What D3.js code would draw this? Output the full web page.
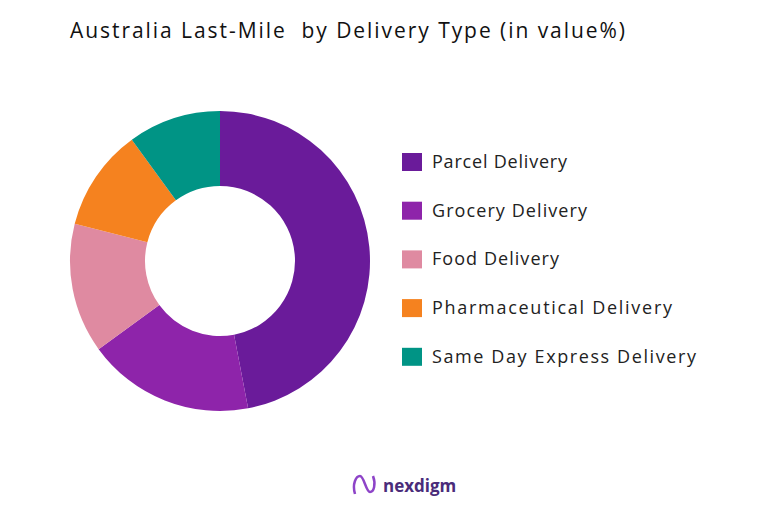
<!DOCTYPE html>
<html><head><meta charset="utf-8">
<script src="https://cdn.jsdelivr.net/npm/d3@7/dist/d3.min.js"></script>
<style>body{margin:0;background:#fff}</style></head>
<body><svg id="c" width="771" height="509"></svg>
<script>
const categories=["Parcel Delivery","Grocery Delivery","Food Delivery","Pharmaceutical Delivery","Same Day Express Delivery"];
const values=[47,18,14,11,10];
const colors=["#6a1b9a","#8e24aa","#df8aa1","#f5821f","#009485"];
const legendWidths=[135,155,127,240,264];
const svg=d3.select("#c");
svg.append("text").attr("x",70).attr("y",38).attr("xml:space","preserve").attr("font-family","Open Sans, sans-serif").attr("font-size",21).attr("fill","#111").attr("textLength",555).attr("lengthAdjust","spacing").text("Australia Last-Mile  by Delivery Type (in value%)");
const pie=d3.pie().sort(null).value(d=>d);
const arc=d3.arc().innerRadius(75).outerRadius(150);
const g=svg.append("g").attr("transform","translate(220,261)");
g.selectAll("path").data(pie(values)).join("path").attr("d",arc).attr("fill",(d,i)=>colors[i]);
const lg=svg.append("g");
categories.forEach((c,i)=>{
 const y=162+i*48.7;
 lg.append("rect").attr("x",402).attr("y",y-9).attr("width",20).attr("height",18).attr("fill",colors[i]);
 lg.append("text").attr("x",432).attr("y",y+6).attr("font-family","Open Sans, sans-serif").attr("font-size",18).attr("fill","#222").attr("textLength",legendWidths[i]).attr("lengthAdjust","spacing").text(c);
});
const lo=svg.append("g");
lo.append("path").attr("d","M355,494 C352,484 356,476 360,476 C364,476 366,492 370,492 C374,492 376,484 373,476").attr("fill","none").attr("stroke","#8e44c8").attr("stroke-width",2.5);
lo.append("text").attr("x",383).attr("y",492).attr("font-family","Open Sans, sans-serif").attr("font-weight","bold").attr("font-size",17).attr("fill","#4a2c7a").text("nexdigm");
</script></body></html>
